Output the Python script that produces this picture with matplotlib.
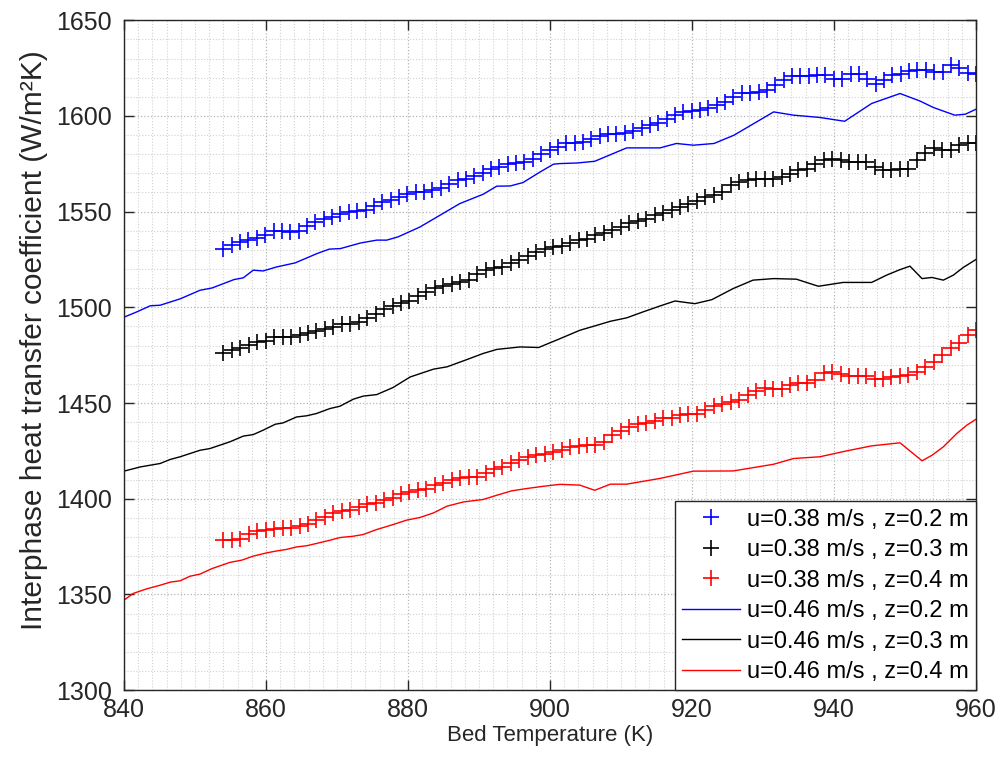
import numpy as np
import matplotlib.pyplot as plt
from matplotlib.ticker import MultipleLocator

plt.rcParams['font.family'] = ['Liberation Sans', 'DejaVu Sans']

# u = 0.38 m/s runs, sampled on an even temperature grid from 854 K to 960 K
h_038_z02 = [1530.7, 1532.5, 1534.0, 1535.0, 1536.0, 1538.0, 1540.0, 1540.0, 1539.5, 1540.0,
             1542.4, 1544.6, 1545.9, 1547.3, 1548.6, 1549.9, 1550.4, 1550.7, 1552.8, 1555.0,
             1556.3, 1557.7, 1559.0, 1560.0, 1560.3, 1561.5, 1562.5, 1564.5, 1566.4, 1566.9,
             1568.5, 1570.2, 1572.2, 1573.4, 1574.8, 1575.6, 1576.0, 1577.7, 1580.0, 1582.0,
             1583.8, 1585.6, 1586.1, 1586.4, 1587.7, 1589.4, 1590.5, 1590.8, 1591.1, 1592.2,
             1593.9, 1595.1, 1596.5, 1598.3, 1600.4, 1601.8, 1602.6, 1603.0, 1604.4, 1605.6,
             1607.3, 1609.9, 1612.0, 1612.2, 1612.6, 1613.4, 1616.4, 1618.7, 1620.7, 1620.7,
             1620.7, 1621.3, 1621.3, 1619.5, 1619.5, 1622.1, 1622.1, 1619.5, 1616.9, 1618.7,
             1621.3, 1622.1, 1623.5, 1623.9, 1624.2, 1623.0, 1623.0, 1626.5, 1624.8, 1622.5,
             1622.1]

h_038_z03 = [1475.9, 1477.9, 1478.5, 1480.2, 1481.9, 1482.4, 1484.5, 1484.5, 1484.5, 1485.4,
             1486.8, 1487.6, 1488.5, 1489.8, 1491.2, 1491.5, 1492.4, 1494.5, 1496.5, 1499.0,
             1500.5, 1502.0, 1503.5, 1506.0, 1508.0, 1510.0, 1511.0, 1512.0, 1513.3, 1514.5,
             1517.3, 1519.4, 1520.3, 1521.1, 1522.9, 1524.6, 1526.7, 1528.9, 1530.7, 1531.6,
             1532.1, 1533.7, 1535.1, 1535.9, 1537.7, 1538.6, 1540.3, 1542.0, 1543.8, 1545.1,
             1546.4, 1548.1, 1549.3, 1550.7, 1552.5, 1553.9, 1555.6, 1557.7, 1558.6, 1560.3,
             1563.8, 1565.5, 1566.4, 1567.3, 1567.3, 1567.3, 1568.1, 1569.9, 1571.6, 1572.5,
             1575.1, 1576.9, 1577.7, 1577.2, 1576.0, 1576.0, 1576.0, 1573.4, 1572.0, 1571.6,
             1572.5, 1572.5, 1576.9, 1580.4, 1583.0, 1582.4, 1582.1, 1584.7, 1585.9, 1585.9]

h_038_z04 = [1378.3, 1378.3, 1379.2, 1381.5, 1383.0, 1383.9, 1384.2, 1384.6, 1384.9, 1385.8,
             1387.0, 1388.8, 1390.5, 1392.6, 1393.6, 1394.0, 1395.7, 1397.1, 1397.8, 1399.2,
             1400.6, 1402.7, 1403.6, 1404.4, 1405.3, 1407.1, 1408.3, 1409.7, 1410.6, 1411.4,
             1411.4, 1413.5, 1415.3, 1416.6, 1418.4, 1420.1, 1421.9, 1422.7, 1423.3, 1424.4,
             1425.3, 1427.1, 1427.6, 1428.0, 1428.0, 1429.7, 1433.2, 1435.4, 1437.5, 1438.9,
             1439.6, 1440.7, 1442.4, 1442.4, 1443.6, 1444.5, 1444.5, 1446.6, 1448.3, 1449.7,
             1450.6, 1451.8, 1454.1, 1456.3, 1457.6, 1457.1, 1457.4, 1459.3, 1460.2, 1460.2,
             1461.9, 1465.7, 1466.3, 1465.4, 1464.0, 1464.0, 1464.0, 1462.8, 1462.8, 1463.6,
             1464.0, 1464.5, 1466.3, 1468.9, 1471.5, 1475.0, 1478.5, 1481.1, 1485.4, 1488.4]

# u = 0.46 m/s runs
t_046_z02 = [840.1, 841.8, 843.7, 845.1, 847.9, 850.7, 852.4, 855.5, 856.8, 858.2,
             859.6, 861.5, 864.1, 867.2, 868.9, 870.5, 873.3, 875.6, 877.0, 878.6,
             881.7, 884.5, 887.3, 890.6, 892.5, 894.4, 896.2, 898.6, 900.5, 901.4,
             903.8, 906.3, 910.8, 915.5, 917.8, 920.2, 923.1, 925.9, 931.5, 934.3,
             938.0, 941.5, 945.3, 949.3, 952.1, 954.0, 957.0, 958.5, 960.0]
h_046_z02 = [1495.0, 1497.6, 1500.8, 1501.1, 1504.4, 1508.9, 1510.1, 1514.5, 1515.4, 1519.4,
             1519.0, 1521.1, 1523.2, 1528.1, 1530.4, 1530.7, 1533.6, 1535.1, 1535.1, 1536.8,
             1542.0, 1548.1, 1554.2, 1559.1, 1563.3, 1563.4, 1565.2, 1570.7, 1574.8, 1575.1,
             1575.4, 1576.3, 1583.3, 1583.3, 1585.6, 1584.7, 1585.6, 1589.9, 1602.1, 1600.4,
             1599.2, 1597.2, 1606.5, 1611.7, 1607.8, 1604.4, 1600.4, 1600.9, 1603.5]

t_046_z03 = [840.0, 842.3, 845.1, 846.5, 847.9, 850.7, 852.1, 854.9, 856.8, 858.2,
             859.6, 861.3, 862.4, 864.3, 865.7, 867.1, 869.0, 870.4, 872.3, 873.7,
             875.6, 877.9, 880.3, 883.6, 885.5, 888.3, 890.6, 892.5, 895.8, 898.4,
             901.4, 904.2, 906.6, 908.5, 910.8, 913.1, 915.5, 917.6, 920.4, 922.8,
             925.8, 928.6, 931.5, 934.7, 937.8, 941.3, 945.3, 947.4, 949.3, 950.7,
             952.4, 953.8, 955.4, 956.8, 958.2, 960.0]
h_046_z03 = [1414.4, 1416.6, 1418.4, 1420.5, 1421.9, 1425.3, 1426.2, 1429.7, 1432.7, 1433.5,
             1435.8, 1438.9, 1439.6, 1442.7, 1443.3, 1444.5, 1447.1, 1448.3, 1452.0, 1453.6,
             1454.4, 1458.1, 1463.6, 1467.7, 1468.9, 1472.7, 1475.9, 1478.0, 1479.3, 1479.0,
             1483.6, 1488.0, 1490.6, 1492.7, 1494.5, 1497.6, 1500.7, 1503.3, 1501.9, 1504.0,
             1509.8, 1514.2, 1515.0, 1514.7, 1511.0, 1513.0, 1513.0, 1516.8, 1519.7, 1521.5,
             1515.0, 1515.6, 1514.2, 1516.8, 1520.8, 1525.0]

t_046_z04 = [840.0, 841.3, 843.2, 845.1, 846.5, 847.9, 849.3, 850.7, 852.4, 853.5,
             854.9, 856.6, 858.2, 860.1, 861.5, 862.9, 864.3, 865.7, 867.1, 869.0,
             870.4, 872.3, 873.7, 875.6, 877.9, 879.8, 881.7, 883.6, 885.5, 887.8,
             890.6, 892.5, 894.6, 896.7, 899.1, 901.4, 904.2, 906.3, 908.5, 910.8,
             915.5, 920.2, 925.8, 931.5, 934.3, 938.0, 941.8, 945.3, 949.3, 952.4,
             953.8, 955.4, 957.3, 958.7, 960.0]
h_046_z04 = [1347.0, 1350.5, 1352.9, 1354.8, 1356.4, 1357.1, 1359.5, 1360.6, 1363.5, 1364.9,
             1366.7, 1367.9, 1370.0, 1371.7, 1372.7, 1373.5, 1374.8, 1375.4, 1376.6, 1378.3,
             1379.7, 1380.4, 1381.3, 1383.9, 1386.5, 1388.8, 1390.2, 1392.6, 1396.1, 1398.3,
             1399.6, 1401.8, 1404.1, 1405.3, 1406.5, 1407.5, 1407.1, 1404.4, 1407.6, 1407.6,
             1410.6, 1414.4, 1414.5, 1418.0, 1421.0, 1421.9, 1425.0, 1427.6, 1429.2, 1419.8,
             1422.7, 1427.1, 1434.1, 1438.4, 1441.5]

labels_038 = ['u=0.38 m/s , z=0.2 m', 'u=0.38 m/s , z=0.3 m', 'u=0.38 m/s , z=0.4 m']
labels_046 = ['u=0.46 m/s , z=0.2 m', 'u=0.46 m/s , z=0.3 m', 'u=0.46 m/s , z=0.4 m']
colors = ['#0000ff', '#000000', '#ff0000']

text_color = '#262626'

fig = plt.figure(figsize=(10, 7.78), dpi=100)
ax = fig.add_axes([0.124, 0.113, 0.852, 0.861])

for h, lab, c in zip([h_038_z02, h_038_z03, h_038_z04], labels_038, colors):
    t = np.linspace(854, 960, len(h))
    ax.plot(t, h, linestyle='none', marker='+', markersize=12, markeredgewidth=1.2,
            color=c, label=lab)

for t, h, lab, c in zip([t_046_z02, t_046_z03, t_046_z04],
                        [h_046_z02, h_046_z03, h_046_z04], labels_046, colors):
    ax.plot(t, h, color=c, linewidth=1.0, label=lab)

ax.set_xlim(840, 960)
ax.set_ylim(1300, 1650)
ax.xaxis.set_major_locator(MultipleLocator(20))
ax.xaxis.set_minor_locator(MultipleLocator(2))
ax.yaxis.set_major_locator(MultipleLocator(50))
ax.yaxis.set_minor_locator(MultipleLocator(10))

ax.grid(which='major', linestyle=':', color='#b5b5b5', linewidth=0.9)
ax.grid(which='minor', linestyle=':', color='#d2d2d2', linewidth=0.8)
ax.set_axisbelow(True)

ax.tick_params(which='major', direction='in', length=7, width=1.0, top=True, right=True,
               labelsize=18, colors=text_color)
ax.tick_params(axis='x', which='major', pad=6)
ax.tick_params(axis='y', which='major', pad=9)
ax.tick_params(which='minor', length=0, top=True, right=True)
for s in ax.spines.values():
    s.set_color(text_color)
    s.set_linewidth(1.0)

ax.set_xlabel('Bed Temperature (K)', fontsize=16, color=text_color)
ax.xaxis.set_label_coords(0.5, -0.052)
ax.set_ylabel('Interphase heat transfer coefficient (W/m\u00b2K)', fontsize=21.5, color=text_color)
ax.yaxis.set_label_coords(-0.089, 0.523)

leg = ax.legend(loc='lower right', fontsize=17, borderaxespad=0, fancybox=False,
                framealpha=1, edgecolor=text_color, handlelength=2.45,
                labelspacing=0.36, borderpad=0.3, handletextpad=0.3)
leg.get_frame().set_linewidth(1.0)

fig.savefig('out.png', dpi=100)
